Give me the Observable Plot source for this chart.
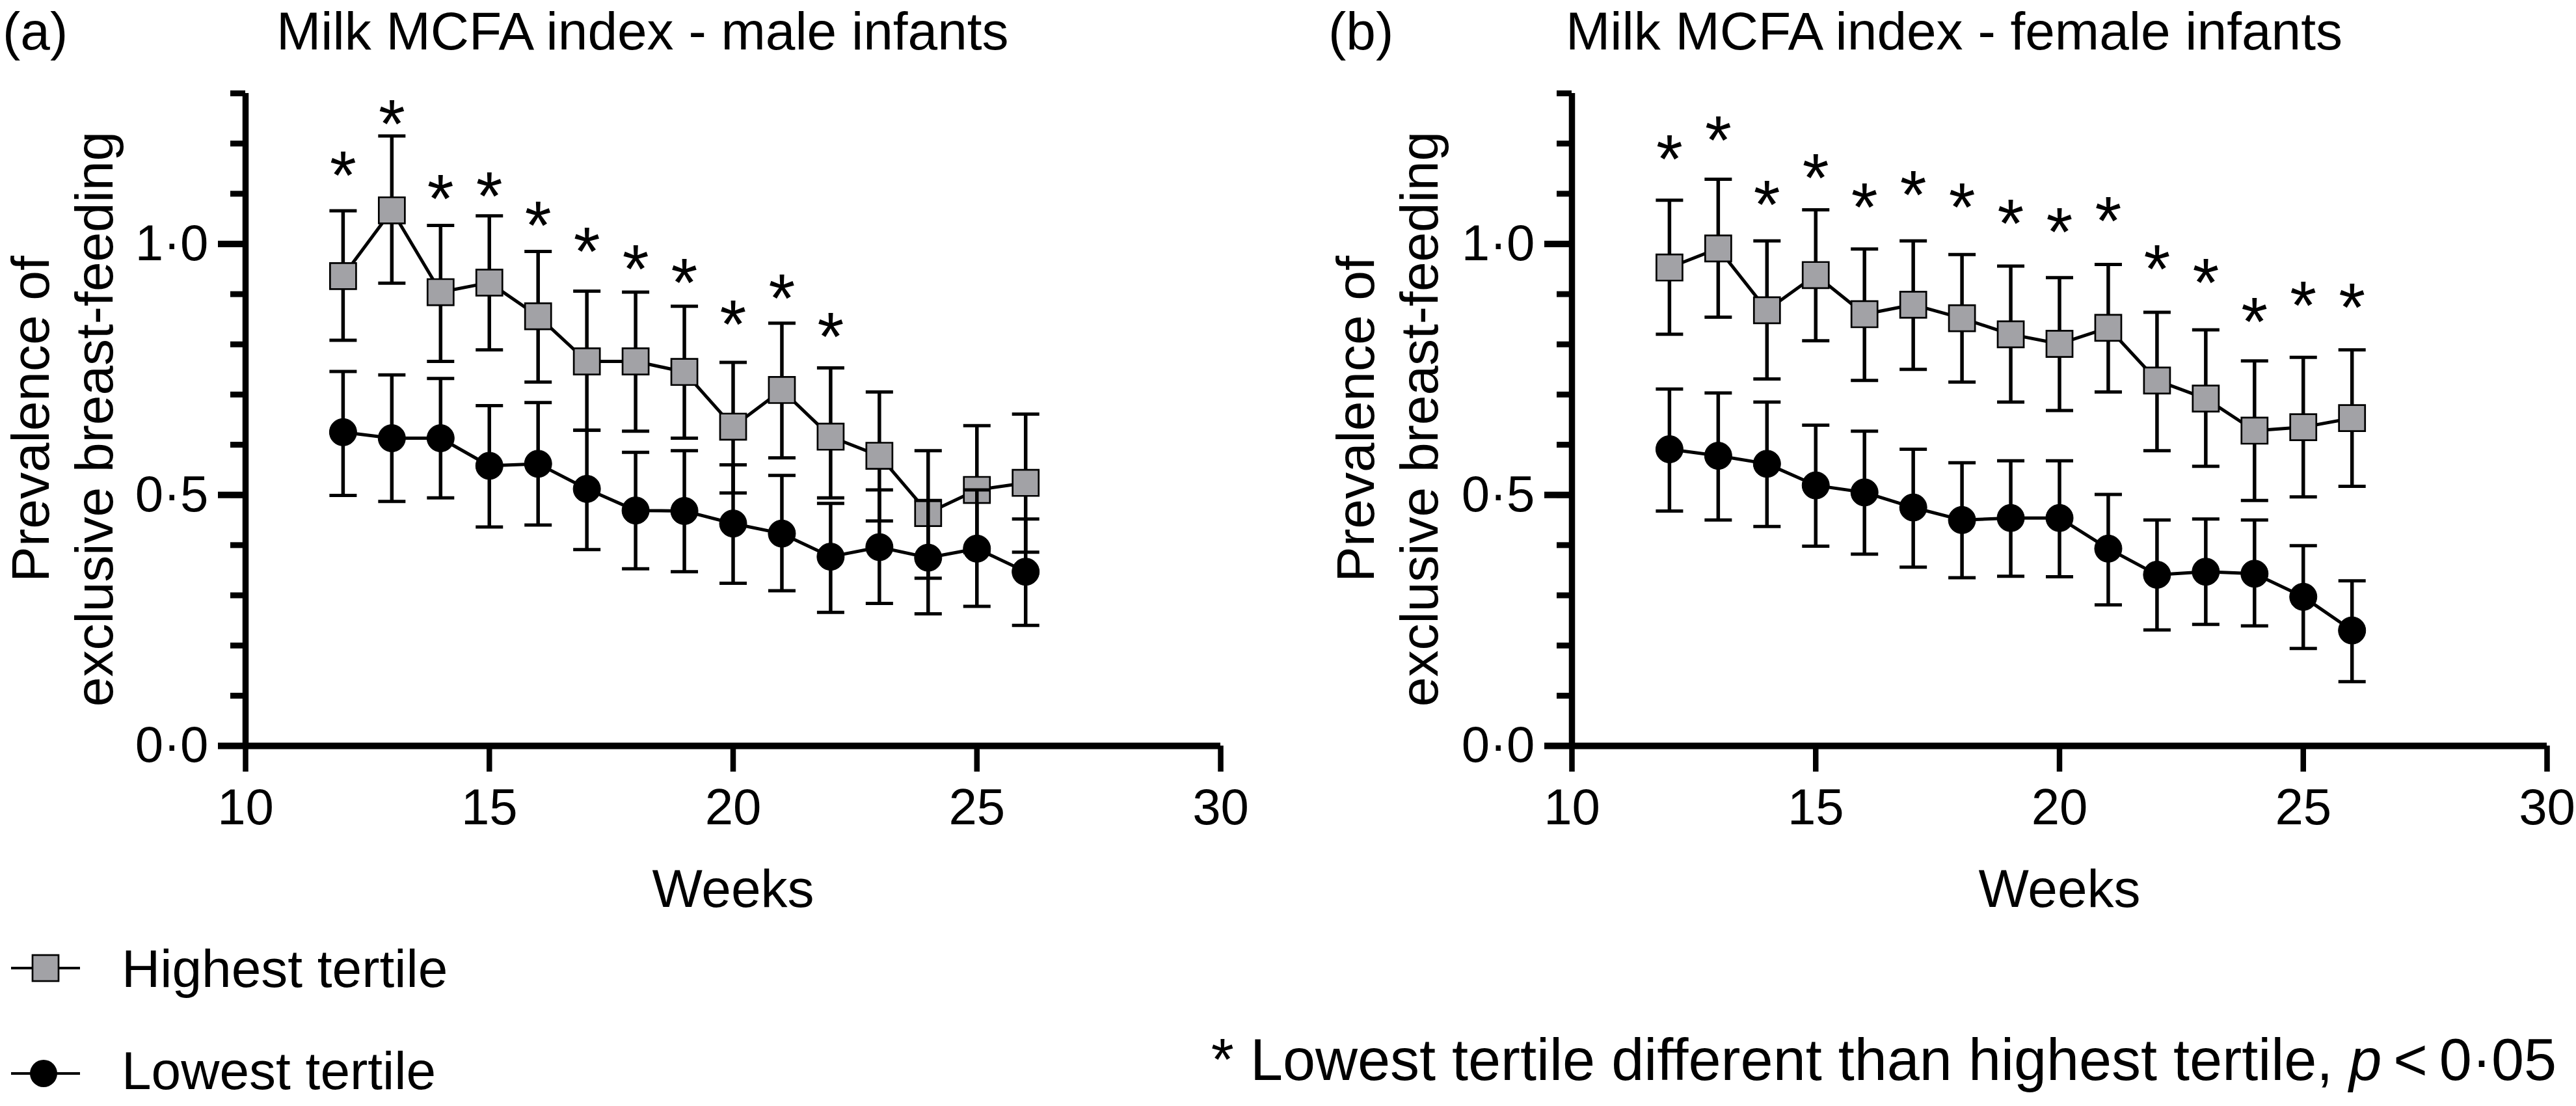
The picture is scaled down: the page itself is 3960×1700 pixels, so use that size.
<!DOCTYPE html>
<html>
<head>
<meta charset="utf-8">
<script src="https://cdn.jsdelivr.net/npm/d3@7"></script>
<script src="https://cdn.jsdelivr.net/npm/@observablehq/plot@0.6"></script>
<style>
  html, body { margin: 0; padding: 0; background: #fff; }
  #wrap { position: relative; width: 3960px; height: 1700px; overflow: hidden; background: #fff;
          font-family: "Liberation Sans", Arial, sans-serif; }
  .panel { position: absolute; top: 0; width: 1980px; height: 1700px; }
  #overlay { position: absolute; left: 0; top: 0; }
</style>
</head>
<body>
<div id="wrap">
  <div id="pa" class="panel" style="left:0px"></div>
  <div id="pb" class="panel" style="left:1980px"></div>
  <svg id="overlay" width="3960" height="1700" xmlns="http://www.w3.org/2000/svg"></svg>
</div>
<script>
// ---------- data ----------
const weeks = [12, 13, 14, 15, 16, 17, 18, 19, 20, 21, 22, 23, 24, 25, 26];

// Panel (a) – male infants
const aHighMean  = [0.936, 1.067, 0.904, 0.923, 0.856, 0.766, 0.766, 0.745, 0.636, 0.709, 0.616, 0.578, 0.464, 0.510, 0.524];
const aHighUpper = [1.066, 1.215, 1.037, 1.056, 0.985, 0.906, 0.904, 0.876, 0.764, 0.842, 0.753, 0.705, 0.588, 0.638, 0.661];
const aHighLower = [0.808, 0.922, 0.766, 0.789, 0.725, 0.629, 0.627, 0.613, 0.504, 0.574, 0.494, 0.448, 0.334, 0.385, 0.386];
const aLowMean   = [0.625, 0.613, 0.613, 0.558, 0.562, 0.512, 0.469, 0.468, 0.443, 0.423, 0.377, 0.396, 0.375, 0.393, 0.347];
const aLowUpper  = [0.746, 0.739, 0.732, 0.678, 0.684, 0.629, 0.585, 0.588, 0.560, 0.539, 0.483, 0.510, 0.489, 0.510, 0.452];
const aLowLower  = [0.499, 0.487, 0.494, 0.436, 0.440, 0.391, 0.353, 0.347, 0.324, 0.309, 0.266, 0.284, 0.263, 0.278, 0.240];
const aStarWeeks = [12, 13, 14, 15, 16, 17, 18, 19, 20, 21, 22];
const aStarY     = [1.163, 1.266, 1.116, 1.122, 1.064, 1.012, 0.977, 0.950, 0.867, 0.918, 0.842];

// Panel (b) – female infants
const bHighMean  = [0.953, 0.991, 0.868, 0.938, 0.860, 0.879, 0.852, 0.820, 0.801, 0.833, 0.728, 0.692, 0.628, 0.635, 0.653];
const bHighUpper = [1.087, 1.129, 1.006, 1.068, 0.990, 1.006, 0.979, 0.956, 0.933, 0.959, 0.864, 0.829, 0.767, 0.774, 0.789];
const bHighLower = [0.820, 0.854, 0.731, 0.807, 0.728, 0.750, 0.725, 0.685, 0.668, 0.705, 0.588, 0.557, 0.489, 0.496, 0.517];
const bLowMean   = [0.591, 0.578, 0.562, 0.519, 0.505, 0.475, 0.450, 0.454, 0.454, 0.393, 0.341, 0.347, 0.343, 0.297, 0.230];
const bLowUpper  = [0.711, 0.703, 0.685, 0.639, 0.627, 0.591, 0.564, 0.568, 0.568, 0.501, 0.450, 0.452, 0.450, 0.399, 0.329];
const bLowLower  = [0.468, 0.450, 0.437, 0.398, 0.382, 0.356, 0.335, 0.338, 0.337, 0.281, 0.231, 0.242, 0.239, 0.194, 0.128];
const bStarWeeks = [12, 13, 14, 15, 16, 17, 18, 19, 20, 21, 22, 23, 24, 25, 26];
const bStarY     = [1.196, 1.233, 1.105, 1.158, 1.100, 1.125, 1.100, 1.067, 1.050, 1.073, 0.977, 0.950, 0.872, 0.904, 0.900];

// axes / labels
const xTicks = [10, 15, 20, 25, 30];
const yMajorTicks = [0, 0.5, 1.0];
const yMinorTicks = [0, 0.1, 0.2, 0.3, 0.4, 0.5, 0.6, 0.7, 0.8, 0.9, 1.0, 1.1, 1.2, 1.3];
const panelLetters = ["(a)", "(b)"];
const panelTitles = ["Milk MCFA index - male infants", "Milk MCFA index - female infants"];
const yTitleLines = ["Prevalence of", "exclusive breast-feeding"];
const xTitle = "Weeks";
const seriesNames = ["Highest tertile", "Lowest tertile"];
const footnote = "* Lowest tertile different than highest tertile, ";

// ---------- styling ----------
const FONT = '"Liberation Sans", Arial, sans-serif';
const FS = 82;      // titles, axis titles, legend
const TICK_FS = 78; // tick labels
const GRAY = "#a2a2a6";

const capSymbol = {
  draw(ctx, size) {
    const r = Math.sqrt(size / Math.PI);
    ctx.moveTo(-r, 0);
    ctx.lineTo(r, 0);
  }
};
const fmtY = d => d.toFixed(1).replace(".", "\u00b7");

function rows(mean, lo, up) {
  return weeks.map((w, i) => ({week: w, mean: mean[i], lo: lo[i], up: up[i]}));
}

function panel(high, low, stars, marginLeft, marginRight) {
  const errMarks = (data) => [
    Plot.ruleX(data, {x: "week", y1: "lo", y2: "up", stroke: "black", strokeWidth: 5.5}),
    Plot.dot(data, {x: "week", y: "up", symbol: capSymbol, r: 21, fill: "none", stroke: "black", strokeWidth: 5}),
    Plot.dot(data, {x: "week", y: "lo", symbol: capSymbol, r: 21, fill: "none", stroke: "black", strokeWidth: 5})
  ];
  return Plot.plot({
    width: 1980,
    height: 1700,
    marginLeft,
    marginRight,
    marginTop: 143,
    marginBottom: 1700 - 1146,
    x: {domain: [10, 30]},
    y: {domain: [0, 1.3]},
    style: {fontFamily: FONT, fontSize: TICK_FS + "px", color: "black", background: "transparent", maxWidth: "none"},
    marks: [
      Plot.axisY(yMinorTicks, {tickSize: 23, strokeWidth: 9, tickFormat: () => "", label: null}),
      Plot.axisY(yMajorTicks, {tickSize: 42, strokeWidth: 10, tickPadding: 15, fontSize: TICK_FS, tickFormat: fmtY, label: null}),
      Plot.axisX(xTicks, {tickSize: 40, strokeWidth: 8.5, tickPadding: 25, fontSize: TICK_FS, tickFormat: d => String(d), label: null}),
      Plot.ruleX([10], {stroke: "black", strokeWidth: 9.5}),
      Plot.ruleY([0], {stroke: "black", strokeWidth: 10}),
      // highest tertile
      ...errMarks(high),
      Plot.line(high, {x: "week", y: "mean", stroke: "black", strokeWidth: 5}),
      Plot.dot(high, {x: "week", y: "mean", symbol: "square", r: 22.6, fill: GRAY, stroke: "black", strokeWidth: 2.7}),
      // lowest tertile
      ...errMarks(low),
      Plot.line(low, {x: "week", y: "mean", stroke: "black", strokeWidth: 5}),
      Plot.dot(low, {x: "week", y: "mean", r: 21, fill: "black", stroke: "black", strokeWidth: 1}),
      // significance asterisks
      Plot.text(stars, {x: "week", y: "y", text: () => "*", fontSize: 105, lineAnchor: "bottom", dy: 57, fill: "black"})
    ]
  });
}

const aStars = aStarWeeks.map((w, i) => ({week: w, y: aStarY[i]}));
const bStars = bStarWeeks.map((w, i) => ({week: w, y: bStarY[i]}));

document.getElementById("pa").appendChild(
  panel(rows(aHighMean, aHighLower, aHighUpper), rows(aLowMean, aLowLower, aLowUpper), aStars, 377, 104));
document.getElementById("pb").appendChild(
  panel(rows(bHighMean, bHighLower, bHighUpper), rows(bLowMean, bLowLower, bLowUpper), bStars, 436, 45));

// ---------- overlay text: titles, axis titles, legend, footnote ----------
const ov = d3.select("#overlay").style("font-family", FONT).style("font-size", FS + "px");
function txt(x, y, s, anchor = "start", transform = null) {
  const t = ov.append("text").attr("x", x).attr("y", y).attr("text-anchor", anchor).attr("fill", "black").text(s);
  if (transform) t.attr("transform", transform).attr("x", 0).attr("y", 0);
  return t;
}
// panel letters and titles
txt(4, 76, panelLetters[0]);
txt(425, 76, panelTitles[0]);
txt(2042, 76, panelLetters[1]);
txt(2407, 76, panelTitles[1]);
// y titles
txt(0, 0, yTitleLines[0], "middle", "translate(75,644) rotate(-90)");
txt(0, 0, yTitleLines[1], "middle", "translate(173,644) rotate(-90)");
txt(0, 0, yTitleLines[0], "middle", "translate(2112,644) rotate(-90)");
txt(0, 0, yTitleLines[1], "middle", "translate(2210,644) rotate(-90)");
// x titles
txt(1127, 1394, xTitle, "middle");
txt(3166, 1394, xTitle, "middle");
// legend
ov.append("line").attr("x1", 17).attr("x2", 123).attr("y1", 1488).attr("y2", 1488).attr("stroke", "black").attr("stroke-width", 4);
ov.append("rect").attr("x", 50).attr("y", 1468).attr("width", 40).attr("height", 40).attr("fill", GRAY).attr("stroke", "black").attr("stroke-width", 2.7);
txt(187, 1517, seriesNames[0]);
ov.append("line").attr("x1", 17).attr("x2", 123).attr("y1", 1650).attr("y2", 1650).attr("stroke", "black").attr("stroke-width", 4);
ov.append("circle").attr("cx", 67).attr("cy", 1650).attr("r", 21).attr("fill", "black");
txt(187, 1674, seriesNames[1]);
// footnote
const fn = ov.append("text").attr("x", 3930).attr("y", 1660).attr("text-anchor", "end").attr("fill", "black").attr("font-size", 90);
fn.append("tspan").text(footnote);
fn.append("tspan").attr("font-style", "italic").text("p");
fn.append("tspan").text("\u2009<\u20090\u00b705");
</script>
</body>
</html>
